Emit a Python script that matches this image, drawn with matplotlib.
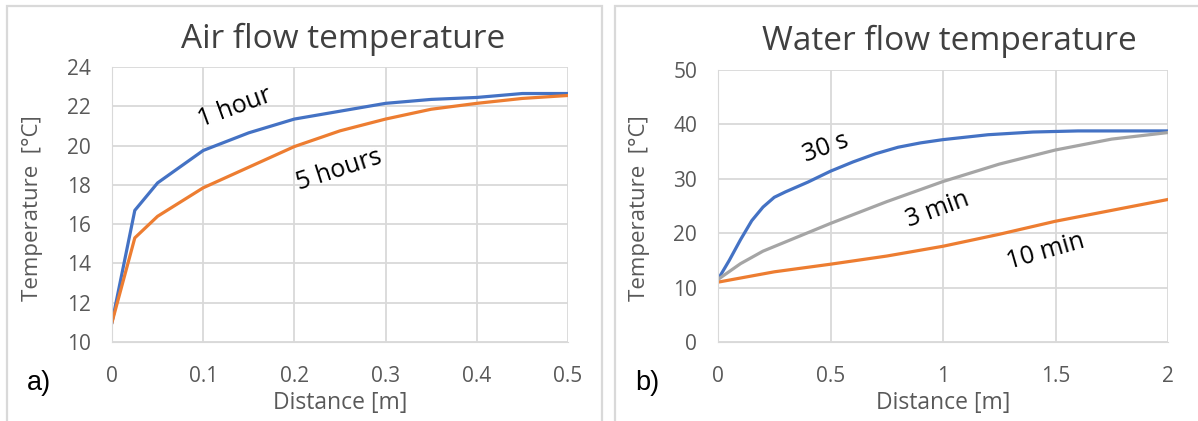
import matplotlib
matplotlib.use("Agg")
import matplotlib.pyplot as plt
from matplotlib.patches import Rectangle

W, H = 1198, 421

# ---- data: air flow ----
air_x = [0, 0.025, 0.05, 0.1, 0.15, 0.2, 0.25, 0.3, 0.35, 0.4, 0.45, 0.5]
air_1h = [11.0, 16.7, 18.1, 19.75, 20.65, 21.35, 21.75, 22.15, 22.35, 22.45, 22.65, 22.65]
air_5h = [11.0, 15.3, 16.4, 17.85, 18.9, 19.95, 20.75, 21.35, 21.85, 22.15, 22.4, 22.55]
air_yticks = [10, 12, 14, 16, 18, 20, 22, 24]
air_xticks = [0, 0.1, 0.2, 0.3, 0.4, 0.5]
air_xticklabels = ["0", "0.1", "0.2", "0.3", "0.4", "0.5"]

# ---- data: water flow ----
w30_x = [0, 0.05, 0.1, 0.15, 0.2, 0.25, 0.3, 0.4, 0.5, 0.6, 0.7, 0.8, 0.9, 1.0, 1.2, 1.4, 1.6, 1.8, 2.0]
w30_y = [11.5, 15.0, 18.8, 22.3, 24.8, 26.6, 27.6, 29.4, 31.4, 33.1, 34.6, 35.8, 36.6, 37.2, 38.1, 38.6, 38.8, 38.8, 38.8]
w3m_x = [0, 0.1, 0.2, 0.3, 0.5, 0.75, 1.0, 1.25, 1.5, 1.75, 2.0]
w3m_y = [11.5, 14.4, 16.7, 18.4, 21.8, 25.8, 29.5, 32.7, 35.3, 37.3, 38.5]
w10_x = [0, 0.25, 0.5, 0.75, 1.0, 1.25, 1.5, 1.75, 2.0]
w10_y = [11.0, 12.9, 14.3, 15.8, 17.6, 19.8, 22.2, 24.2, 26.2]
water_yticks = [0, 10, 20, 30, 40, 50]
water_xticks = [0, 0.5, 1, 1.5, 2]
water_xticklabels = ["0", "0.5", "1", "1.5", "2"]

BLUE = "#4472C4"
ORANGE = "#ED7D31"
GRAY = "#A5A5A5"
GRID = "#D9D9D9"
TXT = "#595959"
FONT = "Open Sans"

fig = plt.figure(figsize=(W / 100, H / 100), dpi=100)


def fx(px):
    return px / W


def fy(py):
    return (H - py) / H


def px_axes(l, t, r, b):
    return fig.add_axes([l / W, (H - b) / H, (r - l) / W, (b - t) / H])


def style(ax, xticks, xlabels, yticks, ypad):
    ax.set_xticks(xticks)
    ax.set_xticklabels(xlabels)
    ax.set_yticks(yticks)
    ax.grid(True, color=GRID, linewidth=1.3)
    ax.set_axisbelow(True)
    for s in ax.spines.values():
        s.set_visible(False)
    ax.spines["bottom"].set_visible(True)
    ax.spines["bottom"].set_color(GRID)
    ax.spines["left"].set_visible(True)
    ax.spines["left"].set_color(GRID)
    ax.tick_params(length=0, labelsize=15, colors=TXT)
    ax.tick_params(axis="x", pad=17)
    ax.tick_params(axis="y", pad=ypad)
    for lab in ax.get_xticklabels() + ax.get_yticklabels():
        lab.set_fontfamily(FONT)


# panel borders
fig.patches.append(Rectangle((fx(7), -0.05), fx(602) - fx(7), fy(6) + 0.05, transform=fig.transFigure,
                             fill=False, edgecolor="#D9D9D9", linewidth=1.6))
fig.patches.append(Rectangle((fx(615), -0.05), 0.5, fy(6) + 0.05, transform=fig.transFigure,
                             fill=False, edgecolor="#D9D9D9", linewidth=1.6))

# ---- left ----
ax1 = px_axes(112, 67, 568, 342)
ax1.plot(air_x, air_1h, color=BLUE, linewidth=2.3)
ax1.plot(air_x, air_5h, color=ORANGE, linewidth=2.3)
ax1.set_xlim(0, 0.5)
ax1.set_ylim(10, 24)
style(ax1, air_xticks, air_xticklabels, air_yticks, 15)
fig.text(fx(343), fy(48), "Air flow temperature", fontsize=24, color="#404040", fontfamily=FONT,
         ha="center", va="baseline")
fig.text(fx(340), fy(409), "Distance [m]", fontsize=16.5, color=TXT, fontfamily=FONT,
         ha="center", va="baseline")
fig.text(fx(33), fy(208), "Temperature  [°C]", fontsize=16, color=TXT, fontfamily=FONT,
         ha="center", va="center", rotation=90)
ax1.text(0.135, 21.95, "1 hour", rotation=20, fontsize=18, fontfamily=FONT, color="black", ha="center", va="center")
ax1.text(0.249, 18.76, "5 hours", rotation=18, fontsize=18, fontfamily=FONT, color="black", ha="center", va="center")
fig.text(fx(27), fy(383), "a)", fontsize=19.5, fontfamily="Liberation Sans", color="black", va="center")

# ---- right ----
ax2 = px_axes(718, 70, 1168, 342)
ax2.plot(w30_x, w30_y, color=BLUE, linewidth=2.3)
ax2.plot(w3m_x, w3m_y, color=GRAY, linewidth=2.3)
ax2.plot(w10_x, w10_y, color=ORANGE, linewidth=2.3)
ax2.set_xlim(0, 2)
ax2.set_ylim(0, 50)
style(ax2, water_xticks, water_xticklabels, water_yticks, 15)
fig.text(fx(949), fy(50), "Water flow temperature", fontsize=24, color="#404040", fontfamily=FONT,
         ha="center", va="baseline")
fig.text(fx(943), fy(409), "Distance [m]", fontsize=16.5, color=TXT, fontfamily=FONT,
         ha="center", va="baseline")
fig.text(fx(640), fy(208), "Temperature  [°C]", fontsize=16, color=TXT, fontfamily=FONT,
         ha="center", va="center", rotation=90)
ax2.text(0.48, 35.7, "30 s", rotation=20, fontsize=18, fontfamily=FONT, color="black", ha="center", va="center")
ax2.text(0.978, 24.3, "3 min", rotation=20, fontsize=18, fontfamily=FONT, color="black", ha="center", va="center")
ax2.text(1.458, 16.5, "10 min", rotation=16, fontsize=18, fontfamily=FONT, color="black", ha="center", va="center")
fig.text(fx(635), fy(383), "b)", fontsize=19.5, fontfamily="Liberation Sans", color="black", va="center")

fig.savefig("out.png", dpi=100)
